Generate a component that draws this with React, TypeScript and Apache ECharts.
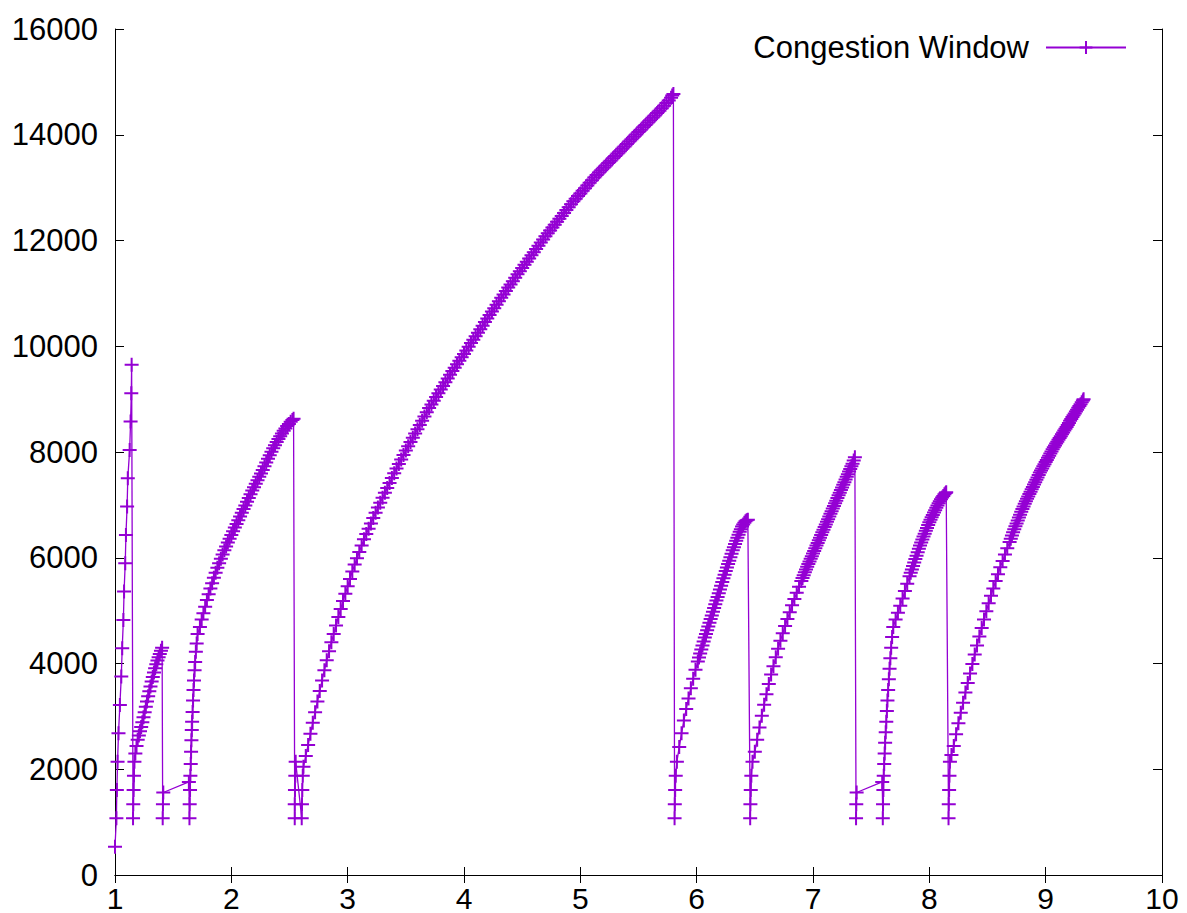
import React, { useEffect, useRef } from "react";
import * as echarts from "echarts";

// Congestion window trace: [time (s), cwnd (bytes)]
const seg1SlowStart: [number, number][] = [
  [1.0, 536], [1.012, 1072], [1.016, 1608], [1.022, 2144], [1.03, 2680], [1.042, 3216],
  [1.054, 3752], [1.062, 4288], [1.072, 4824], [1.078, 5360], [1.088, 5896], [1.094, 6432],
  [1.104, 6968], [1.11, 7504], [1.126, 8040], [1.134, 8576], [1.14, 9112], [1.143, 9648],
];

const seg2: [number, number][] = [
  [1.155, 1072], [1.157, 1340], [1.16, 1608], [1.163, 1876], [1.167, 2144], [1.175, 2300],
  [1.185, 2440], [1.195, 2560], [1.205, 2640], [1.215, 2720], [1.225, 2800], [1.235, 2890],
  [1.245, 2985], [1.255, 3080], [1.265, 3180], [1.275, 3280], [1.285, 3380], [1.295, 3475],
  [1.305, 3565], [1.315, 3660], [1.325, 3745], [1.335, 3830], [1.345, 3910], [1.355, 3985],
  [1.365, 4055], [1.375, 4120], [1.385, 4180], [1.395, 4240], [1.405, 4300],
];

const timeout1: [number, number][] = [
  [1.41, 1072], [1.412, 1340], [1.415, 1560], [1.635, 1760],
];

const seg3: [number, number][] = [
  [1.64, 1072], [1.642, 1340], [1.645, 1608], [1.648, 1876], [1.651, 2100], [1.654, 2330],
  [1.657, 2550], [1.66, 2740], [1.663, 2900], [1.667, 3085], [1.671, 3300], [1.675, 3500],
  [1.679, 3680], [1.684, 3870], [1.689, 4030], [1.695, 4220], [1.702, 4380], [1.71, 4560],
  [1.73, 4690], [1.745, 4830], [1.76, 4950], [1.775, 5075], [1.79, 5200], [1.805, 5310],
  [1.82, 5420], [1.835, 5520], [1.85, 5620], [1.865, 5715], [1.88, 5810], [1.895, 5895],
  [1.91, 5980], [1.925, 6060], [1.94, 6140], [1.955, 6215], [1.97, 6290], [1.985, 6360],
  [2.0, 6430], [2.015, 6500], [2.03, 6570], [2.045, 6640], [2.06, 6710], [2.075, 6780],
  [2.09, 6850], [2.105, 6920], [2.12, 6990], [2.135, 7060], [2.15, 7130], [2.165, 7200],
  [2.18, 7270], [2.195, 7335], [2.21, 7400], [2.225, 7465], [2.24, 7530], [2.255, 7595],
  [2.27, 7660], [2.285, 7730], [2.3, 7800], [2.315, 7870], [2.33, 7940], [2.345, 8005],
  [2.36, 8070], [2.375, 8130], [2.39, 8190], [2.405, 8245], [2.42, 8300], [2.435, 8350],
  [2.45, 8400], [2.465, 8445], [2.48, 8490], [2.495, 8530], [2.51, 8570], [2.525, 8605],
  [2.535, 8630],
];

const seg4: [number, number][] = [
  [2.545, 1072], [2.545, 1340], [2.547, 1608], [2.55, 1876], [2.553, 2144],
  [2.605, 1072], [2.607, 1340], [2.61, 1608], [2.614, 1876], [2.62, 2045], [2.64, 2250],
  [2.66, 2460], [2.68, 2670], [2.7, 2880], [2.72, 3080], [2.74, 3280], [2.76, 3480],
  [2.78, 3680], [2.8, 3870], [2.82, 4060], [2.84, 4230], [2.86, 4400], [2.88, 4560],
  [2.9, 4720], [2.92, 4880], [2.94, 5030], [2.96, 5180], [2.98, 5320], [3.0, 5460],
  [3.02, 5600], [3.04, 5740], [3.06, 5870], [3.08, 5990], [3.1, 6110], [3.12, 6230],
  [3.14, 6350], [3.16, 6450], [3.18, 6550], [3.2, 6650], [3.22, 6750], [3.24, 6850],
  [3.26, 6950], [3.28, 7040], [3.3, 7135], [3.32, 7230], [3.34, 7320], [3.36, 7415],
  [3.38, 7510], [3.4, 7600], [3.42, 7690], [3.44, 7775], [3.46, 7860], [3.48, 7945],
  [3.5, 8030], [3.52, 8110], [3.54, 8190], [3.56, 8270], [3.58, 8350], [3.6, 8430],
  [3.62, 8510], [3.64, 8590], [3.66, 8670], [3.68, 8750], [3.7, 8830], [3.72, 8900],
  [3.74, 8970], [3.76, 9040], [3.78, 9110], [3.8, 9180], [3.82, 9250], [3.84, 9320],
  [3.86, 9390], [3.88, 9460], [3.9, 9530], [3.92, 9595], [3.94, 9660], [3.96, 9725],
  [3.98, 9790], [4.0, 9855], [4.02, 9920], [4.04, 9990], [4.06, 10060], [4.08, 10125],
  [4.1, 10190], [4.12, 10255], [4.14, 10320], [4.16, 10390], [4.18, 10460], [4.2, 10525],
  [4.22, 10590], [4.24, 10655], [4.26, 10720], [4.28, 10785], [4.3, 10850], [4.32, 10915],
  [4.34, 10980], [4.36, 11045], [4.38, 11110], [4.4, 11170], [4.42, 11230], [4.44, 11295],
  [4.46, 11360], [4.48, 11420], [4.5, 11480], [4.52, 11540], [4.54, 11600], [4.56, 11660],
  [4.58, 11720], [4.6, 11780], [4.62, 11840], [4.64, 11900], [4.66, 11960], [4.68, 12020],
  [4.7, 12080], [4.72, 12135], [4.74, 12190], [4.76, 12245], [4.78, 12300], [4.8, 12355],
  [4.82, 12410], [4.84, 12465], [4.86, 12520], [4.88, 12575], [4.9, 12630], [4.92, 12685],
  [4.94, 12740], [4.96, 12790], [4.98, 12840], [5.0, 12890], [5.02, 12940], [5.04, 12990],
  [5.06, 13040], [5.08, 13090], [5.1, 13140], [5.12, 13190], [5.14, 13240], [5.16, 13285],
  [5.18, 13330], [5.2, 13375], [5.22, 13420], [5.24, 13465], [5.26, 13510], [5.28, 13555],
  [5.3, 13600], [5.32, 13645], [5.34, 13690], [5.36, 13735], [5.38, 13780], [5.4, 13825],
  [5.42, 13870], [5.44, 13915], [5.46, 13960], [5.48, 14005], [5.5, 14050], [5.52, 14095],
  [5.54, 14140], [5.56, 14185], [5.58, 14230], [5.6, 14275], [5.62, 14320], [5.64, 14365],
  [5.66, 14410], [5.68, 14455], [5.7, 14500], [5.72, 14550], [5.74, 14600], [5.76, 14650],
  [5.78, 14700], [5.79, 14740], [5.8, 14770],
];

const seg5: [number, number][] = [
  [5.81, 1072], [5.812, 1340], [5.815, 1608], [5.82, 1876], [5.83, 2144], [5.85, 2420],
  [5.87, 2680], [5.89, 2920], [5.91, 3140], [5.93, 3340], [5.95, 3530], [5.97, 3710],
  [5.99, 3880], [6.01, 4040], [6.02, 4115], [6.03, 4190], [6.04, 4265], [6.05, 4340],
  [6.06, 4415], [6.07, 4490], [6.08, 4560], [6.09, 4630], [6.1, 4700], [6.11, 4770],
  [6.12, 4840], [6.13, 4910], [6.14, 4980], [6.15, 5050], [6.16, 5120], [6.17, 5190],
  [6.18, 5260], [6.19, 5330], [6.2, 5400], [6.21, 5470], [6.22, 5540], [6.23, 5610],
  [6.24, 5680], [6.25, 5750], [6.26, 5815], [6.27, 5880], [6.28, 5945], [6.29, 6010],
  [6.3, 6075], [6.31, 6140], [6.32, 6200], [6.33, 6260], [6.34, 6320], [6.35, 6380],
  [6.36, 6435], [6.37, 6490], [6.38, 6540], [6.39, 6590], [6.4, 6630], [6.41, 6660],
  [6.42, 6690], [6.43, 6710], [6.44, 6720],
];

const seg6: [number, number][] = [
  [6.46, 1072], [6.462, 1340], [6.465, 1608], [6.47, 1876], [6.48, 2144], [6.5, 2330],
  [6.52, 2560], [6.54, 2790], [6.56, 3010], [6.58, 3220], [6.6, 3420], [6.62, 3610],
  [6.64, 3790], [6.66, 3950], [6.68, 4120], [6.7, 4280], [6.72, 4430], [6.74, 4570],
  [6.76, 4710], [6.78, 4840], [6.8, 4970], [6.82, 5100], [6.84, 5220], [6.86, 5340],
  [6.88, 5450], [6.9, 5560], [6.91, 5615], [6.92, 5670], [6.93, 5725], [6.94, 5780],
  [6.95, 5830], [6.96, 5880], [6.97, 5930], [6.98, 5980], [6.99, 6030], [7.0, 6080],
  [7.01, 6130], [7.02, 6180], [7.03, 6230], [7.04, 6280], [7.05, 6330], [7.06, 6380],
  [7.07, 6430], [7.08, 6480], [7.09, 6530], [7.1, 6580], [7.11, 6630], [7.12, 6680],
  [7.13, 6730], [7.14, 6780], [7.15, 6830], [7.16, 6880], [7.17, 6930], [7.18, 6980],
  [7.19, 7030], [7.2, 7080], [7.21, 7130], [7.22, 7180], [7.23, 7230], [7.24, 7280],
  [7.25, 7330], [7.26, 7380], [7.27, 7430], [7.28, 7480], [7.29, 7530], [7.3, 7580],
  [7.31, 7630], [7.32, 7680], [7.33, 7730], [7.34, 7780], [7.35, 7840], [7.36, 7900],
];

const timeout2: [number, number][] = [
  [7.37, 1072], [7.372, 1340], [7.375, 1560], [7.595, 1760],
];

const seg7: [number, number][] = [
  [7.6, 1072], [7.602, 1340], [7.605, 1608], [7.608, 1876], [7.612, 2100], [7.616, 2300],
  [7.62, 2500], [7.625, 2700], [7.63, 2900], [7.635, 3100], [7.64, 3300], [7.646, 3500],
  [7.652, 3700], [7.658, 3900], [7.665, 4100], [7.672, 4300], [7.68, 4500], [7.69, 4690],
  [7.71, 4830], [7.73, 4960], [7.75, 5090], [7.77, 5230], [7.79, 5370], [7.81, 5510],
  [7.83, 5650], [7.84, 5715], [7.85, 5780], [7.86, 5845], [7.87, 5910], [7.88, 5975],
  [7.89, 6040], [7.9, 6105], [7.91, 6170], [7.92, 6230], [7.93, 6290], [7.94, 6345],
  [7.95, 6400], [7.96, 6455], [7.97, 6510], [7.98, 6565], [7.99, 6620], [8.0, 6670],
  [8.01, 6720], [8.02, 6765], [8.03, 6810], [8.04, 6855], [8.05, 6900], [8.06, 6945],
  [8.07, 6990], [8.08, 7030], [8.09, 7070], [8.1, 7105], [8.11, 7140], [8.12, 7170],
  [8.13, 7200], [8.14, 7225], [8.145, 7240],
];

const seg8: [number, number][] = [
  [8.165, 1072], [8.167, 1340], [8.17, 1608], [8.173, 1876], [8.177, 2144], [8.19, 2270],
  [8.21, 2440], [8.23, 2660], [8.25, 2870], [8.27, 3070], [8.29, 3260], [8.31, 3450],
  [8.33, 3630], [8.35, 3810], [8.37, 3990], [8.39, 4170], [8.41, 4340], [8.43, 4510],
  [8.45, 4670], [8.47, 4830], [8.49, 4990], [8.51, 5140], [8.53, 5280], [8.55, 5420],
  [8.57, 5560], [8.59, 5690], [8.61, 5820], [8.63, 5940], [8.65, 6060], [8.67, 6180],
  [8.69, 6300], [8.7, 6360], [8.71, 6420], [8.72, 6480], [8.73, 6540], [8.74, 6595],
  [8.75, 6650], [8.76, 6705], [8.77, 6760], [8.78, 6815], [8.79, 6870], [8.8, 6920],
  [8.81, 6970], [8.82, 7020], [8.83, 7070], [8.84, 7115], [8.85, 7160], [8.86, 7205],
  [8.87, 7250], [8.88, 7295], [8.89, 7340], [8.9, 7385], [8.91, 7430], [8.92, 7475],
  [8.93, 7520], [8.94, 7565], [8.95, 7610], [8.96, 7650], [8.97, 7690], [8.98, 7730],
  [8.99, 7770], [9.0, 7810], [9.01, 7850], [9.02, 7890], [9.03, 7930], [9.04, 7970],
  [9.05, 8010], [9.06, 8050], [9.07, 8090], [9.08, 8125], [9.09, 8160], [9.1, 8195],
  [9.11, 8230], [9.12, 8265], [9.13, 8300], [9.14, 8335], [9.15, 8370], [9.16, 8405],
  [9.17, 8440], [9.18, 8475], [9.19, 8510], [9.2, 8550], [9.21, 8590], [9.22, 8625],
  [9.23, 8660], [9.24, 8695], [9.25, 8730], [9.26, 8765], [9.27, 8800], [9.28, 8835],
  [9.29, 8870], [9.3, 8905], [9.31, 8940], [9.32, 8975], [9.326, 9000],
];

const xTicks = { min: 1, max: 10, interval: 1 };
const yTicks = { min: 0, max: 16000, interval: 2000 };
const seriesName = "Congestion Window";

const PURPLE = "#9400d3";
const FONT = "'Liberation Sans', Arial, sans-serif";
const CROSS = "path://M0,7L14,7M7,0L7,14";

export default function App() {
  const ref = useRef<HTMLDivElement>(null);

  useEffect(() => {
    if (!ref.current) return;
    const chart = echarts.init(ref.current, undefined, { renderer: "svg" });
    const data = [
      ...seg1SlowStart, ...seg2, ...timeout1, ...seg3, ...seg4,
      ...seg5, ...seg6, ...timeout2, ...seg7, ...seg8,
    ];
    const axisLine = { show: true, lineStyle: { color: "#000", width: 1 } };
    const label = { color: "#000", fontSize: 31, fontFamily: FONT };
    chart.setOption({
      animation: false,
      backgroundColor: "#fff",
      grid: { left: 115, right: 25, top: 29, bottom: 38, containLabel: false },
      legend: {
        data: [seriesName],
        right: 60,
        top: 32,
        padding: 0,
        align: "right",
        itemWidth: 80,
        itemHeight: 16,
        selectedMode: false,
        textStyle: { color: "#000", fontSize: 31, fontFamily: FONT, padding: [0, 12, 8, 0] },
      },
      xAxis: [
        {
          type: "value", position: "bottom", ...xTicks,
          axisLine, splitLine: { show: false },
          axisTick: { show: true, inside: true, length: 8, lineStyle: { color: "#000" } },
          axisLabel: {
            ...label, fontSize: 30, margin: 8,
            showMinLabel: true, showMaxLabel: true,
          },
        },
        {
          type: "value", position: "top", ...xTicks,
          axisLine, splitLine: { show: false },
          axisTick: { show: true, inside: true, length: 8, lineStyle: { color: "#000" } },
          axisLabel: { show: false },
        },
      ],
      yAxis: [
        {
          type: "value", position: "left", ...yTicks,
          axisLine, splitLine: { show: false },
          axisTick: { show: true, inside: true, length: 9, lineStyle: { color: "#000" } },
          axisLabel: {
            ...label, margin: 17, showMinLabel: true, showMaxLabel: true,
            formatter: (v: number) => String(v),
          },
        },
        {
          type: "value", position: "right", ...yTicks,
          axisLine, splitLine: { show: false },
          axisTick: { show: true, inside: true, length: 9, lineStyle: { color: "#000" } },
          axisLabel: { show: false },
        },
      ],
      series: [
        {
          type: "line",
          name: seriesName,
          xAxisIndex: 0,
          yAxisIndex: 0,
          data,
          symbol: CROSS,
          symbolSize: 14,
          showSymbol: true,
          lineStyle: { color: PURPLE, width: 1.3 },
          itemStyle: { color: PURPLE, borderColor: PURPLE, borderWidth: 2 },
          emphasis: { disabled: true },
          silent: true,
        },
      ],
    });
    return () => chart.dispose();
  }, []);

  return (
    <div
      ref={ref}
      style={{ position: "fixed", left: 0, top: 0, width: 1187, height: 913, background: "#fff" }}
    />
  );
}
